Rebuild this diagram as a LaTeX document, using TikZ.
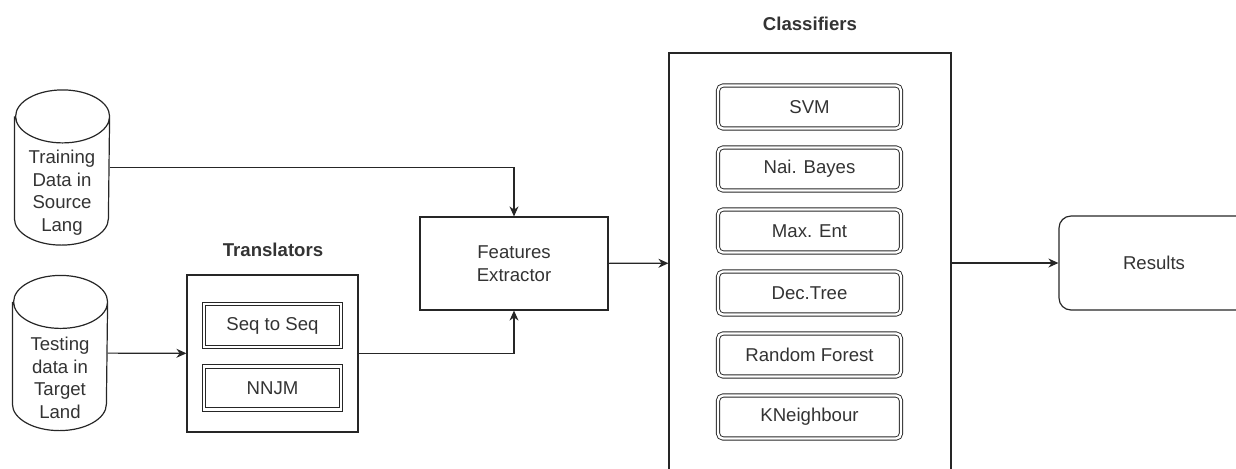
\documentclass[tikz,border=0pt]{standalone}
\usepackage{fontspec}
\setmainfont{Liberation Sans}
\usetikzlibrary{arrows.meta}
\begin{document}
\begin{tikzpicture}[x=0.5pt,y=-0.5pt,line width=0.6pt,draw=black!85,
  every node/.style={font=\fontsize{9.3}{11.3}\selectfont,text=black!80},
  every label/.style={align=center,yshift=-12.5pt},
  db/.style={minimum width=47pt,minimum height=77pt,inner sep=0pt},
  title/.style={font=\fontsize{9.3}{11.3}\selectfont\bfseries},
  dblbox/.style={draw,double,double distance=1.2pt,line width=0.45pt,minimum height=21.5pt},
  algo/.style={dblbox,rounded corners=2.5pt,minimum width=91.5pt},
  link/.style={-{Stealth[length=5pt,width=4.5pt]}}]
  \useasboundingbox (0,0) rectangle (1236,468);
  \node[db,label=center:{Training\\Data in\\Source\\Lang}] (train) at (62,167.5) {};
  \node[db,label=center:{Testing\\data in\\Target\\Land}] (test) at (60,353) {};
  \foreach \n in {train,test}
    \draw ([yshift=-13.25pt]\n.north west) -- ([yshift=13.25pt]\n.south west)
      arc(180:360:23.5pt and 13.25pt) -- ([yshift=-13.25pt]\n.north east)
      arc(0:360:23.5pt and 13.25pt);
  \node[draw,minimum width=85.5pt,minimum height=78.5pt] (trans) at (272.5,353.5) {};
  \node[title] at (273,250) {Translators};
  \node[dblbox,minimum width=68.5pt] (seq) at (272.5,325.5) {Seq to Seq};
  \node[dblbox,minimum width=68.5pt] (nnjm) at (272.5,388) {NNJM};
  \node[draw,minimum width=94pt,minimum height=46.5pt,align=center] (feat) at (514,263.5) {Features\\Extractor};
  \node[draw,minimum width=141pt,minimum height=210pt] (cls) at (810,263) {};
  \node[title] at (810,24) {Classifiers};
  \foreach \t [count=\i] in {SVM,Nai. Bayes,Max. Ent,Dec.Tree,Random Forest,KNeighbour}
    \node[algo] (c\i) at (809.5,45+62*\i) {\t};
  \node[draw,rounded corners=6pt,minimum width=95pt,minimum height=47pt] (res) at (1154,263) {Results};
  \draw[link] (train.east) -| (feat.north);
  \draw[link] (test) -- (trans);
  \draw[link] (trans.east) -| (feat.south);
  \draw[link] (feat) -- (cls);
  \draw[link] (cls) -- (res);
\end{tikzpicture}
\end{document}
